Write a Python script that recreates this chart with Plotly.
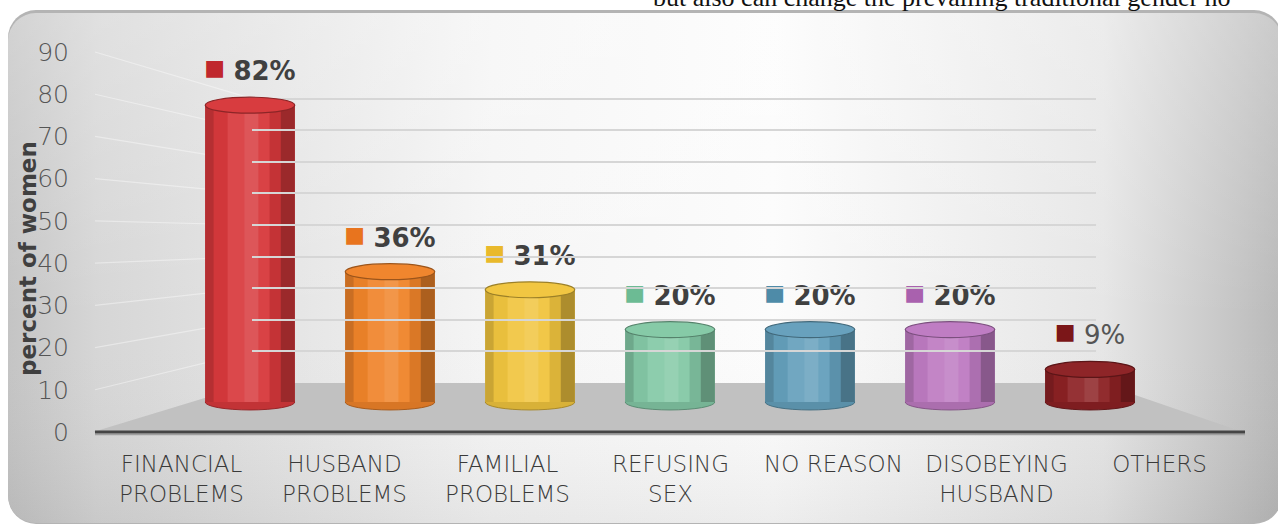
import base64
import plotly.graph_objects as go

# ---------------- data ----------------
categories = ["FINANCIAL<br>PROBLEMS", "HUSBAND<br>PROBLEMS", "FAMILIAL<br>PROBLEMS",
              "REFUSING<br>SEX", "NO REASON", "DISOBEYING<br>HUSBAND", "OTHERS"]
values = [82, 36, 31, 20, 20, 20, 9]
y_ticks = [0, 10, 20, 30, 40, 50, 60, 70, 80, 90]

# ---------------- styles ----------------
base_colors = ["#D8393C", "#F0842A", "#F1C53F", "#84C9A6", "#65A0BC", "#BE7BC2", "#8C2124"]
key_colors = ["#C0272D", "#E8741E", "#E9B92C", "#6CBB94", "#4E8BA8", "#A961AE", "#7B1618"]
bold_label = [True, True, True, True, True, True, False]

OFF = 0
W_PX, H_PX = 1278, 527
ML, MR, MT, MB = 100, 37, 40, 95
PW, PH = W_PX - ML - MR, H_PX - MT - MB
FONT = "'DejaVu Sans', sans-serif"


def px_x(p):  # p given in window (reference) pixels
    return (p - OFF - ML) / PW


def px_y(p):
    return (H_PX - MB - (p - OFF)) / PH


def mix(hexc, f):
    h = hexc.lstrip("#")
    r, g, b = int(h[0:2], 16), int(h[2:4], 16), int(h[4:6], 16)
    if f >= 0:
        r, g, b = [int(c + (255 - c) * f) for c in (r, g, b)]
    else:
        r, g, b = [int(c * (1 + f)) for c in (r, g, b)]
    return "#%02x%02x%02x" % (r, g, b)


# ---------------- background panel (svg gradient) ----------------
svg = """<svg xmlns="http://www.w3.org/2000/svg" width="1278" height="527" viewBox="0 0 1278 527">
<defs>
<linearGradient id="g" x1="0" y1="0" x2="1" y2="0">
<stop offset="0" stop-color="#c4c4c4"/>
<stop offset="0.07" stop-color="#d6d6d6"/>
<stop offset="0.38" stop-color="#f5f5f5"/>
<stop offset="0.6" stop-color="#fcfcfc"/>
<stop offset="0.86" stop-color="#e6e6e6"/>
<stop offset="1" stop-color="#b9b9b9"/>
</linearGradient>
<linearGradient id="v" x1="0" y1="0" x2="0" y2="1">
<stop offset="0" stop-color="#ffffff" stop-opacity="0.25"/>
<stop offset="0.6" stop-color="#ffffff" stop-opacity="0"/>
<stop offset="1" stop-color="#000000" stop-opacity="0.06"/>
</linearGradient>
</defs>
<rect x="8" y="10" width="1274" height="514" rx="28" fill="#b4b4b4"/>
<rect x="8" y="13" width="1274" height="510" rx="28" fill="url(#g)"/>
<rect x="8" y="13" width="1274" height="510" rx="28" fill="url(#v)"/>
</svg>"""
bg_src = "data:image/svg+xml;base64," + base64.b64encode(svg.encode()).decode()

fig = go.Figure()

# invisible trace to establish the category axis
fig.add_trace(go.Scatter(x=categories, y=values, mode="markers", marker=dict(opacity=0),
                         hoverinfo="skip", showlegend=False, xaxis="x", yaxis="y"))

# back wall grid helper trace
fig.add_trace(go.Scatter(x=[0, 1], y=[0, 0], mode="markers", marker=dict(opacity=0),
                         hoverinfo="skip", showlegend=False, xaxis="x3", yaxis="y3"))

# cylinder body: base + overlapping shading strips
idx = list(range(len(values)))
strips = [(-0.32, 0.64, -0.05),
          (-0.32, 0.07, -0.16), (-0.26, 0.11, -0.03), (-0.16, 0.13, 0.08),
          (-0.04, 0.11, 0.15), (0.06, 0.09, 0.05), (0.14, 0.09, -0.09), (0.22, 0.10, -0.28)]
for off, wid, f in strips:
    fig.add_trace(go.Bar(
        x=idx, y=values, offset=off, width=wid,
        marker=dict(color=[mix(c, f) for c in base_colors], line=dict(width=0)),
        xaxis="x2", yaxis="y2", showlegend=False, hoverinfo="skip"))

# data labels
label_text = []
for v, c, b in zip(values, key_colors, bold_label):
    num = f"<b>{v}%</b>" if b else f"<span style='color:#555555'>{v}%</span>"
    label_text.append(
        f"<span style='color:{c};font-size:22px;baseline-shift:22%'>■</span> {num}")
fig.add_trace(go.Scatter(
    x=idx, y=values, mode="markers+text", text=label_text, textposition="top center",
    marker=dict(size=28, opacity=0), cliponaxis=False,
    textfont=dict(family=FONT, size=26, color="#404040"),
    xaxis="x2", yaxis="y2", showlegend=False, hoverinfo="skip"))

shapes = []
# floor
floor_pts = [(93, 432), (254, 383), (1100, 383), (1243, 432)]
path = "M " + " L ".join(f"{px_x(a):.5f},{px_y(b):.5f}" for a, b in floor_pts) + " Z"
shapes.append(dict(type="path", xref="paper", yref="paper", path=path,
                   fillcolor="#c1c1c1", line=dict(width=0), layer="between"))

# side wall lines (main axis scale -> back wall scale)
for t in y_ticks[1:]:
    y_front = 432 - t * 380 / 90
    y_back = 383 - t * 3.16
    shapes.append(dict(type="line", xref="paper", yref="paper",
                       x0=px_x(95), y0=px_y(y_front), x1=px_x(252), y1=px_y(y_back),
                       line=dict(color="rgba(255,255,255,0.4)", width=1.2), layer="below"))

# axis line
shapes.append(dict(type="line", xref="paper", yref="paper", x0=px_x(95), x1=px_x(1245),
                   y0=px_y(434.5), y1=px_y(434.5), line=dict(color="#a0a0a0", width=1.5)))
shapes.append(dict(type="line", xref="paper", yref="paper", x0=px_x(95), x1=px_x(1245),
                   y0=px_y(432), y1=px_y(432), line=dict(color="#454545", width=3)))

# cylinder caps
cap_h = 2.2
for i, (v, c) in enumerate(zip(values, base_colors)):
    shapes.append(dict(type="circle", xref="x2", yref="y2", x0=i - 0.32, x1=i + 0.32,
                       y0=-cap_h, y1=cap_h, fillcolor=mix(c, -0.1),
                       line=dict(color=mix(c, -0.3), width=1), layer="between"))
    shapes.append(dict(type="circle", xref="x2", yref="y2", x0=i - 0.32, x1=i + 0.32,
                       y0=v - cap_h, y1=v + cap_h, fillcolor=mix(c, 0.02),
                       line=dict(color=mix(c, -0.35), width=1.2), layer="above"))

annotations = [
    dict(text="<b>percent of women</b>", xref="paper", yref="paper", x=px_x(28), y=px_y(259),
         textangle=-90, showarrow=False, xanchor="center", yanchor="middle",
         font=dict(family=FONT, size=23, color="#404040")),
    dict(text="but also can change the prevailing traditional gender no", xref="paper", yref="paper",
         x=px_x(651), y=px_y(-2), xanchor="left", yanchor="middle", showarrow=False,
         font=dict(family="'Liberation Serif', serif", size=26, color="#111111")),
]

fig.update_layout(
    width=W_PX, height=H_PX,
    margin=dict(l=ML, r=MR, t=MT, b=MB),
    paper_bgcolor="white", plot_bgcolor="rgba(0,0,0,0)",
    barmode="overlay", showlegend=False,
    shapes=shapes, annotations=annotations,
    images=[dict(source=bg_src, xref="paper", yref="paper", x=px_x(0), y=px_y(0),
                 sizex=1278 / PW, sizey=527 / PH, xanchor="left", yanchor="top",
                 sizing="stretch", layer="below")],
    xaxis=dict(type="category", categoryarray=categories, range=[-0.5, 6.5],
               showgrid=False, zeroline=False, showline=False,
               ticks="outside", ticklen=11, tickcolor="rgba(0,0,0,0)",
               tickfont=dict(family=FONT, size=23, color="#3a3a3a", weight=200)),
    yaxis=dict(range=[0, 90 * 392 / 380], tickvals=y_ticks, showgrid=False, zeroline=False,
               showline=False, ticks="outside", ticklen=25, tickcolor="rgba(0,0,0,0)",
               tickfont=dict(family=FONT, size=25, color="#555555", weight=200)),
    xaxis2=dict(domain=[px_x(180), px_x(1160)], anchor="y2", range=[-0.5, 6.5], visible=False),
    yaxis2=dict(domain=[0, 1], anchor="x2", range=[-30 / 3.62, 362 / 3.62], visible=False),
    xaxis3=dict(domain=[px_x(252), px_x(1096)], anchor="y3", range=[0, 1], visible=False),
    yaxis3=dict(domain=[0, 1], anchor="x3", range=[(383 - 432) / 3.16, (383 - 40) / 3.16],
                tickvals=y_ticks[1:], showticklabels=False, showgrid=True,
                gridcolor="#d6d6d6", gridwidth=2, zeroline=False, showline=False, ticks=""),
)

# remove the browser's default page margin so the figure sits at the window origin
fig.write_html("out.html", config={"displayModeBar": False},
               post_script="document.body.style.margin='0px';")
